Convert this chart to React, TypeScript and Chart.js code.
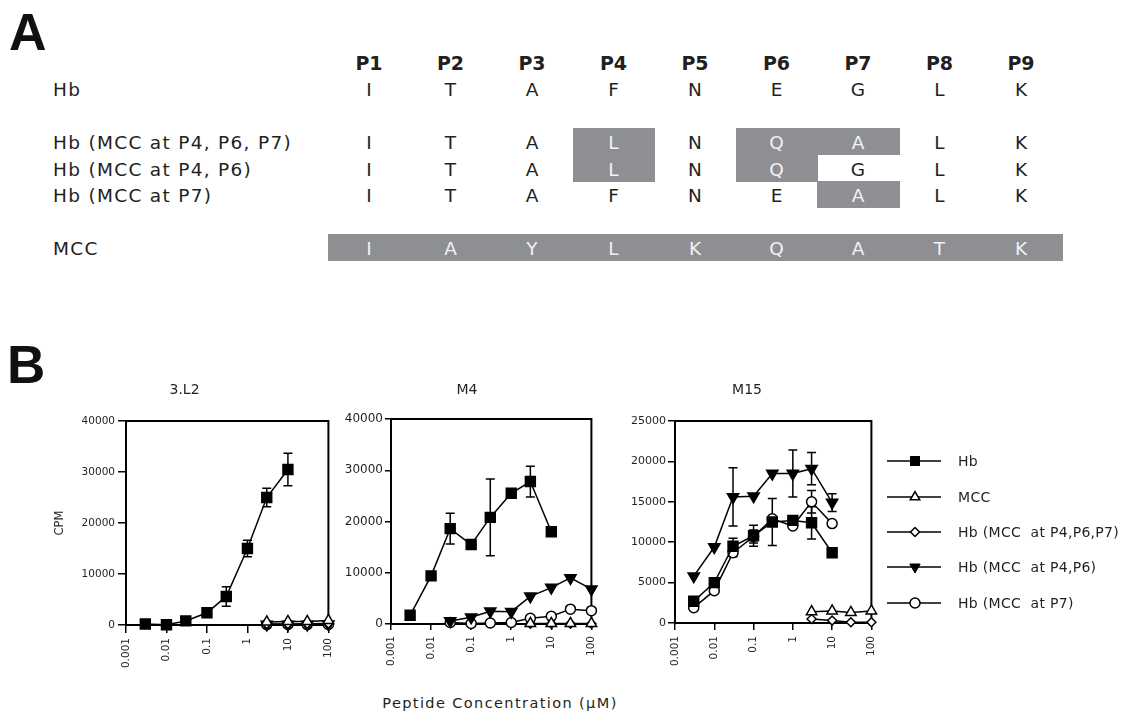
import React, { useEffect, useRef } from 'react';
import { Chart, registerables } from 'chart.js';

Chart.register(...registerables);

// ---------------- Panel A data ----------------
const POSITIONS = ['P1', 'P2', 'P3', 'P4', 'P5', 'P6', 'P7', 'P8', 'P9'];
const ROW_LABELS = ['Hb', 'Hb (MCC at P4, P6, P7)', 'Hb (MCC at P4, P6)', 'Hb (MCC at P7)', 'MCC'];
const ROW_SEQS = [
  ['I', 'T', 'A', 'F', 'N', 'E', 'G', 'L', 'K'],
  ['I', 'T', 'A', 'L', 'N', 'Q', 'A', 'L', 'K'],
  ['I', 'T', 'A', 'L', 'N', 'Q', 'G', 'L', 'K'],
  ['I', 'T', 'A', 'F', 'N', 'E', 'A', 'L', 'K'],
  ['I', 'A', 'Y', 'L', 'K', 'Q', 'A', 'T', 'K'],
];
const ROW_HIGHLIGHT = [[], [3, 5, 6], [3, 5], [6], [0, 1, 2, 3, 4, 5, 6, 7, 8]];

// ---------------- Panel B data ----------------
const X_TICKS = [0.001, 0.01, 0.1, 1, 10, 100];
const X_TICK_LABELS = ['0.001', '0.01', '0.1', '1', '10', '100'];

const CONC_FULL = [0.003, 0.01, 0.03, 0.1, 0.3, 1, 3, 10];
const CONC_HIGH = [3, 10, 30, 100];
const CONC_M4_VAR = [0.03, 0.1, 0.3, 1, 3, 10, 30, 100];

// 3.L2
const L2_HB = [200, 50, 800, 2400, 5600, 15000, 25000, 30500];
const L2_HB_ERR = [0, 0, 0, 0, 1900, 1600, 1800, 3200];
const L2_MCC = [600, 700, 700, 900];
const L2_P467 = [200, 200, 250, 300];
const L2_P46 = [100, 100, 100, 150];
const L2_P7 = [80, 100, 80, 120];

// M4
const M4_HB = [1700, 9400, 18600, 15500, 20800, 25500, 27800, 18000];
const M4_HB_ERR = [0, 0, 3000, 0, 7500, 0, 3000, 0];
const M4_MCC = [100, 100, 100, 100];
const M4_P467 = [50, 50, 50, 50];
const M4_P46 = [600, 1300, 2500, 2400, 5400, 7100, 9000, 6800];
const M4_P7 = [300, 100, 200, 300, 1100, 1500, 2900, 2600];

// M15
const M15_HB = [2700, 5000, 9500, 10800, 12500, 12700, 12400, 8700];
const M15_HB_ERR = [0, 0, 1000, 1300, 2900, 0, 2000, 0];
const M15_MCC = [1400, 1500, 1300, 1500];
const M15_P467 = [500, 300, 100, 100];
const M15_P46 = [5800, 9400, 15600, 15700, 18500, 18500, 19100, 14900];
const M15_P46_ERR = [0, 0, 3600, 0, 0, 2900, 2000, 1100];
const M15_P7 = [1900, 4000, 8700, 10700, 12900, 12000, 15000, 12300];
const M15_P7_ERR = [0, 0, 500, 800, 0, 0, 1400, 0];

const LEGEND_LABELS = ['Hb', 'MCC', 'Hb (MCC  at P4,P6,P7)', 'Hb (MCC  at P4,P6)', 'Hb (MCC  at P7)'];

const INK = '#231f20';
const FONT = '"DejaVu Sans", Verdana, sans-serif';

const STYLE: Record<string, any> = {
  hb: { pointStyle: 'rect', pointRadius: 7, pointBackgroundColor: '#000' },
  mcc: { pointStyle: 'triangle', pointRadius: 6, pointBackgroundColor: '#fff' },
  p467: { pointStyle: 'rectRot', pointRadius: 4.5, pointBackgroundColor: '#fff' },
  p46: { pointStyle: 'triangle', pointRotation: 180, pointRadius: 6.5, pointBackgroundColor: '#000' },
  p7: { pointStyle: 'circle', pointRadius: 5, pointBackgroundColor: '#fff' },
};

function series(key: string, xs: number[], ys: number[], errs?: number[]) {
  return {
    label: key,
    data: xs.map((x, i) => ({ x, y: ys[i] })),
    errors: errs,
    borderColor: '#000',
    borderWidth: 1.5,
    pointBorderColor: '#000',
    pointBorderWidth: 1.5,
    pointHoverRadius: STYLE[key].pointRadius,
    fill: false,
    tension: 0,
    clip: false,
    ...STYLE[key],
  };
}

const errorBarPlugin = {
  id: 'errorBars',
  beforeDatasetsDraw(chart: any) {
    const ctx = chart.ctx;
    const ys = chart.scales.y;
    chart.data.datasets.forEach((ds: any, i: number) => {
      if (!ds.errors) return;
      const meta = chart.getDatasetMeta(i);
      ctx.save();
      ctx.strokeStyle = '#000';
      ctx.lineWidth = 1.5;
      meta.data.forEach((pt: any, j: number) => {
        const e = ds.errors[j];
        if (!e) return;
        const v = ds.data[j].y;
        const t = ys.getPixelForValue(v + e);
        const b = ys.getPixelForValue(v - e);
        const x = pt.x;
        ctx.beginPath();
        ctx.moveTo(x, t);
        ctx.lineTo(x, b);
        ctx.moveTo(x - 4.5, t);
        ctx.lineTo(x + 4.5, t);
        ctx.moveTo(x - 4.5, b);
        ctx.lineTo(x + 4.5, b);
        ctx.stroke();
      });
      ctx.restore();
    });
  },
};

const framePlugin = {
  id: 'frame',
  beforeDatasetsDraw(chart: any) {
    const { ctx, chartArea: a } = chart;
    ctx.save();
    ctx.strokeStyle = '#000';
    ctx.lineWidth = 2;
    ctx.beginPath();
    ctx.moveTo(a.left, a.top);
    ctx.lineTo(a.right, a.top);
    ctx.lineTo(a.right, a.bottom);
    ctx.stroke();
    ctx.restore();
  },
};

type PanelCfg = {
  left: number; top: number; w: number; h: number;
  title: string; titleBottom: number;
  yWidth: number; xHeight: number; rightPad: number;
  yMax: number; yStep: number; yFont: number;
  tickLen: number; yPad: number; xPad: number;
  yTitle?: string;
  datasets: any[];
};

const PANELS: PanelCfg[] = [
  {
    left: 40, top: 378, w: 306, h: 300, title: '3.L2', titleBottom: 22.2,
    yWidth: 86, xHeight: 53, rightPad: 17, yMax: 40000, yStep: 10000, yFont: 10.5,
    tickLen: 8, yPad: 3, xPad: 5, yTitle: 'CPM',
    datasets: [
      series('hb', CONC_FULL, L2_HB, L2_HB_ERR),
      series('mcc', CONC_HIGH, L2_MCC),
      series('p467', CONC_HIGH, L2_P467),
      series('p46', CONC_HIGH, L2_P46),
      series('p7', CONC_HIGH, L2_P7),
    ],
  },
  {
    left: 340, top: 378, w: 270, h: 300, title: 'M4', titleBottom: 20.2,
    yWidth: 51, xHeight: 54, rightPad: 16, yMax: 40000, yStep: 10000, yFont: 12,
    tickLen: 6, yPad: 2, xPad: 6,
    datasets: [
      series('hb', CONC_FULL, M4_HB, M4_HB_ERR),
      series('mcc', CONC_HIGH, M4_MCC),
      series('p467', CONC_HIGH, M4_P467),
      series('p46', CONC_M4_VAR, M4_P46),
      series('p7', CONC_M4_VAR, M4_P7),
    ],
  },
  {
    left: 620, top: 378, w: 270, h: 300, title: 'M15', titleBottom: 22.2,
    yWidth: 55, xHeight: 55, rightPad: 16, yMax: 25000, yStep: 5000, yFont: 11,
    tickLen: 7, yPad: 2, xPad: 6,
    datasets: [
      series('hb', CONC_FULL, M15_HB, M15_HB_ERR),
      series('mcc', CONC_HIGH, M15_MCC),
      series('p467', CONC_HIGH, M15_P467),
      series('p46', CONC_FULL, M15_P46, M15_P46_ERR),
      series('p7', CONC_FULL, M15_P7, M15_P7_ERR),
    ],
  },
];

function buildConfig(p: PanelCfg): any {
  return {
    type: 'line',
    data: { datasets: p.datasets },
    plugins: [errorBarPlugin, framePlugin],
    options: {
      responsive: false,
      animation: false,
      events: [],
      layout: { padding: { left: 0, right: p.rightPad, top: 0, bottom: 0 } },
      plugins: {
        legend: { display: false },
        tooltip: { enabled: false },
        title: {
          display: true,
          text: p.title,
          color: INK,
          font: { family: FONT, size: 14, weight: 'normal' },
          padding: { top: 4, bottom: p.titleBottom },
        },
      },
      scales: {
        x: {
          type: 'logarithmic',
          min: 0.001,
          max: 100,
          afterBuildTicks: (s: any) => {
            s.ticks = X_TICKS.map((v) => ({ value: v }));
          },
          afterFit: (s: any) => {
            s.height = p.xHeight;
          },
          ticks: {
            autoSkip: false,
            minRotation: 90,
            maxRotation: 90,
            padding: p.xPad,
            color: INK,
            font: { family: FONT, size: 10.5 },
            callback: (_v: any, i: number) => X_TICK_LABELS[i],
          },
          grid: { drawOnChartArea: false, tickLength: p.tickLen, color: '#000', lineWidth: 1.5 },
          border: { color: '#000', width: 2 },
        },
        y: {
          type: 'linear',
          min: 0,
          max: p.yMax,
          afterFit: (s: any) => {
            s.width = p.yWidth;
          },
          ticks: {
            stepSize: p.yStep,
            padding: p.yPad,
            color: INK,
            font: { family: FONT, size: p.yFont },
            callback: (v: any) => String(v),
          },
          grid: { drawOnChartArea: false, tickLength: p.tickLen, color: '#000', lineWidth: 1.5 },
          border: { color: '#000', width: 2 },
          title: p.yTitle
            ? {
                display: true,
                text: p.yTitle,
                color: INK,
                font: { family: FONT, size: 11.5 },
                padding: { top: 13, bottom: 0 },
              }
            : { display: false },
        },
      },
    },
  };
}

function Plot({ cfg }: { cfg: PanelCfg }) {
  const ref = useRef<HTMLCanvasElement | null>(null);
  useEffect(() => {
    if (!ref.current) return;
    const chart = new Chart(ref.current, buildConfig(cfg));
    return () => chart.destroy();
  }, [cfg]);
  return (
    <canvas
      ref={ref}
      width={cfg.w}
      height={cfg.h}
      style={{ position: 'absolute', left: cfg.left, top: cfg.top, width: cfg.w, height: cfg.h }}
    />
  );
}

function Txt(props: {
  x: number; cy: number; size: number; weight?: number; color?: string;
  center?: boolean; family?: string; spacing?: number; children: React.ReactNode;
}) {
  const { x, cy, size, weight = 400, color = INK, center = false, family = FONT, spacing = 0 } = props;
  const style: React.CSSProperties = {
    position: 'absolute',
    top: cy - 0.4815 * size,
    left: x,
    fontSize: size,
    lineHeight: `${size}px`,
    fontFamily: family,
    fontWeight: weight,
    color,
    whiteSpace: 'pre',
    letterSpacing: spacing,
    transform: center ? 'translateX(-50%)' : undefined,
  };
  return <div style={style}>{props.children}</div>;
}

// layout constants for panel A
const COL0 = 369;
const COL_STEP = 81.5;
const HEADER_CY = 63.5;
const ROW_CY = [90.3, 143, 169.5, 195.5, 248.5];
const ROW_BOX_TOP = [0, 128, 155, 181, 234];
const ROW_BOX_H = [0, 27, 26.5, 27, 27];

function PanelA() {
  const boxes: React.ReactNode[] = [];
  ROW_HIGHLIGHT.forEach((cols, r) => {
    cols.forEach((c) => {
      boxes.push(
        <div
          key={`b${r}-${c}`}
          style={{
            position: 'absolute',
            left: COL0 + c * COL_STEP - 41,
            top: ROW_BOX_TOP[r],
            width: 82.5,
            height: ROW_BOX_H[r],
            background: '#8e8f93',
          }}
        />
      );
    });
  });
  return (
    <>
      {boxes}
      {POSITIONS.map((p, i) => (
        <Txt key={p} x={COL0 + i * COL_STEP} cy={HEADER_CY} size={19} weight={700} center>
          {p}
        </Txt>
      ))}
      {ROW_LABELS.map((l, r) => (
        <Txt key={l} x={53} cy={ROW_CY[r]} size={18.5} spacing={1.3}>
          {l}
        </Txt>
      ))}
      {ROW_SEQS.map((seq, r) =>
        seq.map((aa, c) => (
          <Txt
            key={`${r}-${c}`}
            x={COL0 + c * COL_STEP}
            cy={ROW_CY[r]}
            size={18.5}
            center
            color={ROW_HIGHLIGHT[r].includes(c) ? '#f2f2f2' : INK}
          >
            {aa}
          </Txt>
        ))
      )}
    </>
  );
}

const LEGEND_CY = [461, 497, 532, 567, 603];
const LEGEND_KEYS = ['hb', 'mcc', 'p467', 'p46', 'p7'];

function Marker({ kind, cx, cy }: { kind: string; cx: number; cy: number }) {
  const sw = 1.5;
  if (kind === 'hb') return <rect x={cx - 5} y={cy - 5} width={10} height={10} fill="#000" />;
  if (kind === 'mcc') {
    const r = 5.5;
    const pts = [[cx, cy - r], [cx + r * 0.866, cy + r * 0.5], [cx - r * 0.866, cy + r * 0.5]];
    return <polygon points={pts.map((q) => q.join(',')).join(' ')} fill="#fff" stroke="#000" strokeWidth={sw} />;
  }
  if (kind === 'p467') {
    const r = 4.5;
    const pts = [[cx, cy - r], [cx + r, cy], [cx, cy + r], [cx - r, cy]];
    return <polygon points={pts.map((q) => q.join(',')).join(' ')} fill="#fff" stroke="#000" strokeWidth={sw} />;
  }
  if (kind === 'p46') {
    const r = 6;
    const pts = [[cx, cy + r], [cx + r * 0.866, cy - r * 0.5], [cx - r * 0.866, cy - r * 0.5]];
    return <polygon points={pts.map((q) => q.join(',')).join(' ')} fill="#000" stroke="#000" strokeWidth={1} />;
  }
  return <circle cx={cx} cy={cy} r={5} fill="#fff" stroke="#000" strokeWidth={sw} />;
}

function Legend() {
  return (
    <>
      <svg
        width={70}
        height={200}
        style={{ position: 'absolute', left: 880, top: 430 }}
        viewBox="880 430 70 200"
      >
        {LEGEND_KEYS.map((k, i) => (
          <g key={k}>
            <line x1={887} x2={941} y1={LEGEND_CY[i]} y2={LEGEND_CY[i]} stroke="#000" strokeWidth={1.5} />
            <Marker kind={k} cx={915} cy={LEGEND_CY[i]} />
          </g>
        ))}
      </svg>
      {LEGEND_LABELS.map((l, i) => (
        <Txt key={l} x={958} cy={LEGEND_CY[i]} size={14} spacing={0.3}>
          {l}
        </Txt>
      ))}
    </>
  );
}

export default function App() {
  return (
    <div
      style={{
        position: 'absolute',
        left: 0,
        top: 0,
        width: 1127,
        height: 715,
        background: '#fff',
        overflow: 'hidden',
      }}
    >
      <Txt x={9} cy={31.5} size={52} weight={700} family={'"Liberation Sans", Arial, sans-serif'} color="#111">
        A
      </Txt>
      <Txt x={7} cy={363.5} size={53} weight={700} family={'"Liberation Sans", Arial, sans-serif'} color="#111">
        B
      </Txt>
      <PanelA />
      {PANELS.map((p) => (
        <Plot key={p.title} cfg={p} />
      ))}
      <Legend />
      <Txt x={500} cy={703} size={14.5} spacing={1.4} center>
        Peptide Concentration (µM)
      </Txt>
    </div>
  );
}
